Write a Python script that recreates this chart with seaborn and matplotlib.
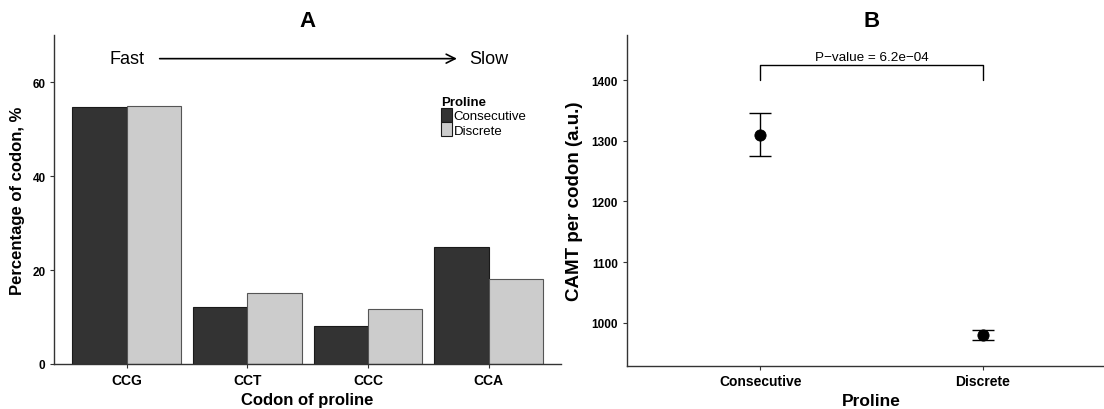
import matplotlib
matplotlib.use("Agg")
import matplotlib.pyplot as plt
from matplotlib.patches import Patch
import seaborn as sns
import pandas as pd

# Panel A data: share of each proline codon, %
codons = ["CCG", "CCT", "CCC", "CCA"]
consecutive_pct = [54.7, 12.2, 8.1, 25.0]
discrete_pct = [54.9, 15.2, 11.7, 18.1]
proline_groups = ["Consecutive", "Discrete"]

# Panel B data: CAMT per codon, mean and error
camt_mean = [1310, 980]
camt_err = [35, 8.5]
p_text = "P\u2212value = 6.2e\u221204"

sns.set_theme(style="white")
plt.rcParams["font.family"] = ["Liberation Sans", "DejaVu Sans"]
plt.rcParams.update({
    "text.color": "black",
    "axes.labelcolor": "black",
    "axes.edgecolor": "#333333",
    "axes.linewidth": 1.0,
    "xtick.color": "#333333",
    "ytick.color": "#333333",
    "xtick.labelcolor": "black",
    "ytick.labelcolor": "black",
    "xtick.major.size": 2.8,
    "ytick.major.size": 2.8,
    "xtick.major.width": 0.8,
    "ytick.major.width": 0.8,
    "xtick.bottom": True,
    "ytick.left": True,
})

fig = plt.figure(figsize=(11.04, 4.10), dpi=100)
ax_a = fig.add_axes([0.0492, 0.1098, 0.459, 0.802])
ax_b = fig.add_axes([0.5677, 0.1056, 0.4437, 0.806])

colors = {"Consecutive": "#333333", "Discrete": "#cccccc"}

# ---- Panel A ----
df_a = pd.DataFrame({
    "Codon": codons * 2,
    "Proline": [proline_groups[0]] * len(codons) + [proline_groups[1]] * len(codons),
    "Percent": consecutive_pct + discrete_pct,
})
sns.barplot(data=df_a, x="Codon", y="Percent", hue="Proline", order=codons,
            hue_order=proline_groups, palette=colors, width=0.9,
            edgecolor="#1a1a1a", linewidth=0.8, ax=ax_a, legend=False)
for patch in ax_a.patches[len(codons):]:
    patch.set_edgecolor("#555555")
ax_a.set_xlim(-0.6, 3.6)
ax_a.set_ylim(0, 70)
ax_a.set_yticks([0, 20, 40, 60])
ax_a.set_xlabel("Codon of proline", fontsize=12, fontweight="bold", labelpad=4)
ax_a.set_ylabel("Percentage of codon, %", fontsize=12, fontweight="bold", labelpad=5)
for lab in ax_a.get_xticklabels():
    lab.set_fontweight("bold")
    lab.set_fontsize(10)
for lab in ax_a.get_yticklabels():
    lab.set_fontweight("bold")
    lab.set_fontsize(8.5)
sns.despine(ax=ax_a)

# Fast -> Slow annotation
ax_a.text(0, 65, "Fast", ha="center", va="center", fontsize=13)
ax_a.text(3, 65, "Slow", ha="center", va="center", fontsize=13)
ax_a.annotate("", xy=(2.76, 65), xytext=(0.25, 65),
              arrowprops=dict(arrowstyle="->", lw=1.2, color="black", mutation_scale=16))

handles = [Patch(facecolor=colors[g], edgecolor="#1a1a1a", linewidth=0.8) for g in proline_groups]
leg = ax_a.legend(handles, proline_groups, title="Proline", loc="upper left",
                  bbox_to_anchor=(0.763, 0.815), frameon=False, fontsize=9.5,
                  title_fontproperties={"weight": "bold", "size": 9.5},
                  handlelength=0.85, handleheight=1.25, handletextpad=0.1,
                  labelspacing=0.0, borderpad=0, borderaxespad=0, alignment="left")

# ---- Panel B ----
df_b = pd.DataFrame({"Proline": proline_groups, "CAMT": camt_mean, "err": camt_err})
sns.scatterplot(data=df_b, x="Proline", y="CAMT", color="black", s=65,
                edgecolor="black", zorder=3, ax=ax_b)
ax_b.errorbar(df_b["Proline"], df_b["CAMT"], yerr=df_b["err"], fmt="none",
              ecolor="black", elinewidth=1.0, capsize=8, capthick=1.0)
ax_b.set_xlim(-0.6, 1.6)
ax_b.set_ylim(929, 1474)
ax_b.set_yticks([1000, 1100, 1200, 1300, 1400])
ax_b.set_xlabel("Proline", fontsize=12.5, fontweight="bold", labelpad=3)
ax_b.set_ylabel("CAMT per codon (a.u.)", fontsize=13.5, fontweight="bold", labelpad=6)
for lab in ax_b.get_xticklabels():
    lab.set_fontweight("bold")
    lab.set_fontsize(10)
for lab in ax_b.get_yticklabels():
    lab.set_fontweight("bold")
    lab.set_fontsize(8.5)
sns.despine(ax=ax_b)

# significance bracket
ax_b.plot([0, 0, 1, 1], [1400, 1425, 1425, 1400], color="black", lw=1.0)
ax_b.text(0.5, 1429, p_text, ha="center", va="bottom", fontsize=9.7)

fig.text(307.7 / 1104, 1 - 21.7 / 410, "A", ha="center", va="center",
         fontsize=16, fontweight="bold")
fig.text(871.6 / 1104, 1 - 21.7 / 410, "B", ha="center", va="center",
         fontsize=16, fontweight="bold")

fig.savefig("out.png", dpi=100)
